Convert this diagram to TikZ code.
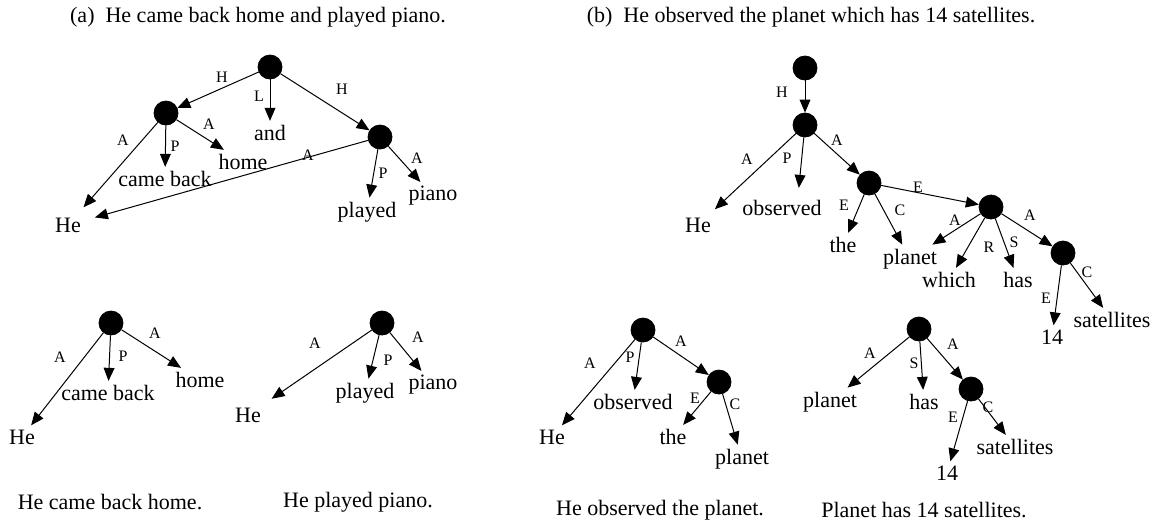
\documentclass[tikz,border=0pt]{standalone}
\usepackage{fontspec}
\setmainfont{Liberation Serif}
\usetikzlibrary{arrows.meta}

\begin{document}
\begin{tikzpicture}[x=0.5pt, y=-0.5pt,
	dot/.style={circle, fill=black, draw=black, minimum size=12pt, inner sep=0pt},
	word/.style={font=\fontsize{11}{13}\selectfont, inner sep=2pt},
	lbl/.style={font=\fontsize{8}{9}\selectfont, inner sep=0pt},
	arr/.style={line width=0.5pt, -{Triangle[length=6.5pt, width=5.4pt]}},
	caption/.style={font=\fontsize{11}{13}\selectfont}]
	\useasboundingbox (0,0) rectangle (1165,521);

	% Titles
	\node[caption] (ta) at (258,17) {(a)\ \ He came back home and played piano.};
	\node[caption] (tb) at (811,17) {(b)\ \ He observed the planet which has 14 satellites.};

	% (a) full graph
	\node[dot] (a0) at (270,67) {};
	\node[dot] (a1) at (166,113) {};
	\node[dot] (a2) at (380,137) {};
	\node[word] (aHe) at (68,225) {He};
	\node[word] (aCame) at (165,179) {came back};
	\node[word] (aHome) at (243,162) {home};
	\node[word] (aAnd) at (270,133) {and};
	\node[word] (aPlayed) at (367,212) {played};
	\node[word] (aPiano) at (433,196) {piano};
	\draw[arr] (a0) -- (a1);
	\draw[arr] (a0) -- (aAnd);
	\draw[arr] (a0) -- (a2);
	\draw[arr, shorten >=4pt] (a1) -- (aHe);
	\draw[arr] (a1) -- (aCame);
	\draw[arr] (a1) -- (aHome);
	\draw[arr, shorten >=5pt] (a2) -- (aHe);
	\draw[arr] (a2) -- (aPlayed);
	\draw[arr] (a2) -- (aPiano);
	\node[lbl] (la1) at (222,77) {H};
	\node[lbl] (la2) at (259,96) {L};
	\node[lbl] (la3) at (342,89) {H};
	\node[lbl] (la4) at (123,140) {A};
	\node[lbl] (la5) at (175,146) {P};
	\node[lbl] (la6) at (209,124) {A};
	\node[lbl] (la7) at (308,155) {A};
	\node[lbl] (la8) at (383,173) {P};
	\node[lbl] (la9) at (417,158) {A};

	% (b) full graph
	\node[dot] (b0) at (805,68) {};
	\node[dot] (b1) at (805,125) {};
	\node[dot] (b2) at (869,183) {};
	\node[dot] (b3) at (991,207) {};
	\node[dot] (b4) at (1063,253) {};
	\node[word] (bHe) at (698,225) {He};
	\node[word] (bObs) at (782,208) {observed};
	\node[word] (bThe) at (843,245) {the};
	\node[word] (bPlanet) at (910,259) {planet};
	\node[word] (bWhich) at (949,280) {which};
	\node[word] (bHas) at (1018,280) {has};
	\node[word] (b14) at (1052,337) {14};
	\node[word] (bSat) at (1112,320) {satellites};
	\draw[arr] (b0) -- (b1);
	\draw[arr, shorten >=3pt] (b1) -- (bHe);
	\draw[arr, shorten >=4pt] (b1) -- ([xshift=8pt]bObs.north);
	\draw[arr] (b1) -- (b2);
	\draw[arr] (b2) -- (bThe);
	\draw[arr] (b2) -- (bPlanet);
	\draw[arr] (b2) -- (b3);
	\draw[arr] (b3) -- (bPlanet);
	\draw[arr] (b3) -- (bWhich);
	\draw[arr] (b3) -- (bHas);
	\draw[arr] (b3) -- (b4);
	\draw[arr] (b4) -- (b14);
	\draw[arr] (b4) -- (bSat);
	\node[lbl] (lb1) at (782,92) {H};
	\node[lbl] (lb2) at (747,159) {A};
	\node[lbl] (lb3) at (787,158) {P};
	\node[lbl] (lb4) at (837,140) {A};
	\node[lbl] (lb5) at (844,205) {E};
	\node[lbl] (lb6) at (900,210) {C};
	\node[lbl] (lb7) at (918,187) {E};
	\node[lbl] (lb8) at (955,220) {A};
	\node[lbl] (lb9) at (989,247) {R};
	\node[lbl] (lb10) at (1014,242) {S};
	\node[lbl] (lb11) at (1030,215) {A};
	\node[lbl] (lb12) at (1046,298) {E};
	\node[lbl] (lb13) at (1087,272) {C};

	% He came back home.
	\node[dot] (c0) at (111,323) {};
	\node[word] (cHe) at (22,437) {He};
	\node[word] (cCame) at (108,393) {came back};
	\node[word] (cHome) at (200,380) {home};
	\draw[arr] (c0) -- (cHe);
	\draw[arr] (c0) -- (cCame);
	\draw[arr] (c0) -- (cHome);
	\node[lbl] (lc1) at (60,357) {A};
	\node[lbl] (lc2) at (123,356) {P};
	\node[lbl] (lc3) at (155,333) {A};
	\node[caption] (tc) at (110,502) {He came back home.};

	% He played piano.
	\node[dot] (d0) at (382,323) {};
	\node[word] (dHe) at (248,415) {He};
	\node[word] (dPlayed) at (365,393) {played};
	\node[word] (dPiano) at (433,385) {piano};
	\draw[arr, shorten >=4pt] (d0) -- (dHe);
	\draw[arr] (d0) -- (dPlayed);
	\draw[arr] (d0) -- (dPiano);
	\node[lbl] (ld1) at (315,343) {A};
	\node[lbl] (ld2) at (388,360) {P};
	\node[lbl] (ld3) at (418,337) {A};
	\node[caption] (td) at (358,502) {He played piano.};

	% He observed the planet.
	\node[dot] (e0) at (643,330) {};
	\node[dot] (e1) at (719,382) {};
	\node[word] (eHe) at (552,437) {He};
	\node[word] (eObs) at (633,402) {observed};
	\node[word] (eThe) at (673,437) {the};
	\node[word] (ePlanet) at (742,459) {planet};
	\draw[arr] (e0) -- (eHe);
	\draw[arr] (e0) -- (eObs);
	\draw[arr] (e0) -- (e1);
	\draw[arr] (e1) -- (eThe);
	\draw[arr] (e1) -- (ePlanet);
	\node[lbl] (le1) at (590,363) {A};
	\node[lbl] (le2) at (630,357) {P};
	\node[lbl] (le3) at (681,341) {A};
	\node[lbl] (le4) at (695,398) {E};
	\node[lbl] (le5) at (735,404) {C};
	\node[caption] (te) at (660,510) {He observed the planet.};

	% Planet has 14 satellites.
	\node[dot] (f0) at (919,329) {};
	\node[dot] (f1) at (971,389) {};
	\node[word] (fPlanet) at (830,402) {planet};
	\node[word] (fHas) at (924,402) {has};
	\node[word] (f14) at (947,473) {14};
	\node[word] (fSat) at (1015,447) {satellites};
	\draw[arr] (f0) -- (fPlanet);
	\draw[arr] (f0) -- (fHas);
	\draw[arr] (f0) -- (f1);
	\draw[arr] (f1) -- (f14);
	\draw[arr] (f1) -- (fSat);
	\node[lbl] (lf1) at (870,353) {A};
	\node[lbl] (lf2) at (914,363) {S};
	\node[lbl] (lf3) at (953,344) {A};
	\node[lbl] (lf4) at (953,417) {E};
	\node[lbl] (lf5) at (988,407) {C};
	\node[caption] (tf) at (924,510) {Planet has 14 satellites.};
\end{tikzpicture}
\end{document}
